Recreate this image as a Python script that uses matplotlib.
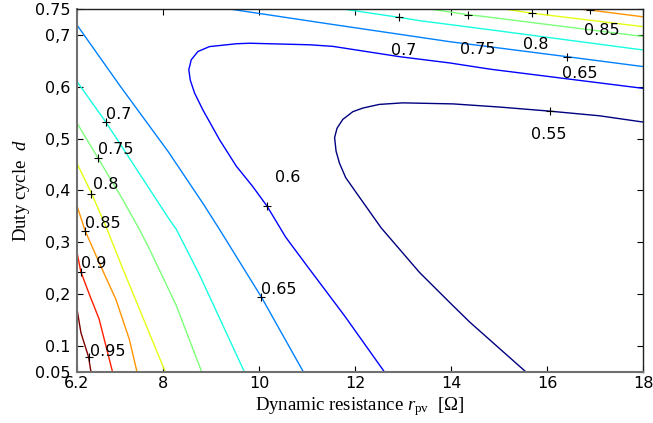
import matplotlib
matplotlib.use("Agg")
import matplotlib.pyplot as plt
import numpy as np

# contour levels (jet colours, low -> high)
levels = [0.55, 0.6, 0.65, 0.7, 0.75, 0.8, 0.85, 0.9, 0.95]

# contour branches: r_pv [ohm], d
r_055 = [18.0, 17.1, 16.06, 15.0, 14.04, 12.99, 12.5, 12.16, 11.95, 11.74, 11.62, 11.57, 11.6, 11.67, 11.8, 12.02, 12.54, 13.34, 13.97, 14.39, 15.56]
d_055 = [0.532, 0.544, 0.553, 0.561, 0.567, 0.569, 0.566, 0.559, 0.552, 0.537, 0.52, 0.502, 0.476, 0.453, 0.425, 0.396, 0.328, 0.242, 0.184, 0.146, 0.05]

r_060 = [18.0, 14.81, 13.97, 12.93, 11.53, 11.05, 9.8, 9.52, 8.96, 8.72, 8.58, 8.53, 8.56, 8.65, 8.82, 9.17, 9.52, 9.86, 10.16, 10.55, 11.0, 11.78, 12.61]
d_060 = [0.597, 0.634, 0.646, 0.658, 0.678, 0.681, 0.684, 0.683, 0.6775, 0.668, 0.652, 0.633, 0.613, 0.588, 0.556, 0.498, 0.447, 0.408, 0.37, 0.31, 0.254, 0.158, 0.05]

r_065 = [6.2, 7.11, 8.1, 8.84, 9.17, 10.04, 10.92]
d_065 = [0.719, 0.60, 0.475, 0.373, 0.325, 0.195, 0.05]
r_065_top = [9.38, 11.47, 13.97, 16.42, 18.0]
d_065_top = [0.75, 0.721, 0.687, 0.658, 0.639]

r_070 = [6.2, 6.8, 8.125, 8.27, 8.75, 9.69]
d_070 = [0.61, 0.532, 0.344, 0.325, 0.238, 0.05]
r_070_top = [11.74, 12.91, 13.34, 14.81, 18.0]
d_070_top = [0.75, 0.734, 0.7275, 0.71, 0.671]

r_075 = [6.2, 6.64, 7.15, 7.5, 7.71, 8.27, 8.8]
d_075 = [0.53, 0.462, 0.383, 0.325, 0.287, 0.178, 0.05]
r_075_top = [13.55, 14.35, 14.6, 18.0]
d_075_top = [0.75, 0.739, 0.7365, 0.697]

r_080 = [6.2, 6.5, 6.84, 7.15, 7.64, 8.04]
d_080 = [0.452, 0.395, 0.322, 0.25, 0.14, 0.05]
r_080_top = [15.12, 15.68, 18.0]
d_080_top = [0.75, 0.742, 0.716]

r_085 = [6.2, 6.37, 6.66, 7.01, 7.29, 7.45]
d_085 = [0.37, 0.322, 0.261, 0.19, 0.113, 0.05]
r_085_top = [16.62, 16.89, 18.0]
d_085_top = [0.75, 0.748, 0.735]

r_090 = [6.2, 6.28, 6.455, 6.66, 6.94]
d_090 = [0.28, 0.243, 0.2, 0.152, 0.05]

r_095 = [6.2, 6.28, 6.44, 6.49]
d_095 = [0.171, 0.126, 0.079, 0.05]

branches = [
    (0.55, r_055, d_055), (0.6, r_060, d_060),
    (0.65, r_065, d_065), (0.65, r_065_top, d_065_top),
    (0.7, r_070, d_070), (0.7, r_070_top, d_070_top),
    (0.75, r_075, d_075), (0.75, r_075_top, d_075_top),
    (0.8, r_080, d_080), (0.8, r_080_top, d_080_top),
    (0.85, r_085, d_085), (0.85, r_085_top, d_085_top),
    (0.9, r_090, d_090), (0.95, r_095, d_095),
]

# clabel anchors ("+" marks)
label_text = ['0.95', '0.9', '0.85', '0.8', '0.75', '0.7', '0.65', '0.6', '0.55', '0.65', '0.7', '0.75', '0.8', '0.85']
label_r = [6.44, 6.28, 6.37, 6.5, 6.64, 6.8, 10.04, 10.16, 16.06, 16.42, 12.91, 14.35, 15.68, 16.89]
label_d = [0.079, 0.243, 0.322, 0.394, 0.462, 0.532, 0.195, 0.37, 0.553, 0.658, 0.734, 0.739, 0.742, 0.748]
# text offsets from the anchor (points)
label_off = [(1, 1), (0, 3), (0, 2), (1, 3), (0, 3), (0, 2), (0, 2), (6, 17),
             (-14, -20), (-4, -15), (-6, -27), (-6, -28), (-6, -26), (-4, -18)]

xticks = [6.2, 8, 10, 12, 14, 16, 18]
xticklabels = ['6.2', '8', '10', '12', '14', '16', '18']
yticks = [0.05, 0.1, 0.2, 0.3, 0.4, 0.5, 0.6, 0.7, 0.75]
yticklabels = ['0.05', '0.1', '0,2', '0,3', '0,4', '0,5', '0,6', '0,7', '0.75']

plt.rcParams['font.family'] = ['DejaVu Sans']
plt.rcParams['mathtext.fontset'] = 'custom'
plt.rcParams['mathtext.rm'] = 'Liberation Serif'
plt.rcParams['mathtext.it'] = 'Liberation Serif:italic'

fig = plt.figure(figsize=(6.53, 4.23), dpi=100)
ax = fig.add_axes([0.118, 0.1206, 0.8667, 0.8581])

colors = plt.cm.jet(np.linspace(0, 1, len(levels)))
for lev, r, d in branches:
    c = colors[levels.index(lev)]
    ax.plot(r, d, '-', color=c, lw=1.0)

for txt, r, d, off in zip(label_text, label_r, label_d, label_off):
    ax.plot(r, d, '+', color='black', ms=6, mew=0.8)
    ax.annotate(txt, (r, d), xytext=off, textcoords='offset points',
                ha='left', va='baseline', fontsize=11.5)

ax.set_xlim(6.2, 18)
ax.set_ylim(0.05, 0.75)
ax.set_xticks(xticks)
ax.set_xticklabels(xticklabels)
ax.set_yticks(yticks)
ax.set_yticklabels(yticklabels)
ax.tick_params(direction='in', length=4, width=0.8, top=True, right=True,
               labelsize=11.5, pad=3)
ax.tick_params(axis='y', pad=5)
for s in ['left', 'bottom']:
    ax.spines[s].set_color('#707070')
    ax.spines[s].set_linewidth(1.5)
for s in ['top', 'right']:
    ax.spines[s].set_color('#202020')
    ax.spines[s].set_linewidth(1.0)

ax.set_xlabel('Dynamic resistance $r_{\\mathrm{pv}}$  [Ω]', family='Liberation Serif',
              fontsize=13.5, labelpad=3)
ax.set_ylabel('Duty cycle  $d$', family='Liberation Serif', fontsize=13.5, labelpad=2)

fig.savefig('out.png', dpi=100)
